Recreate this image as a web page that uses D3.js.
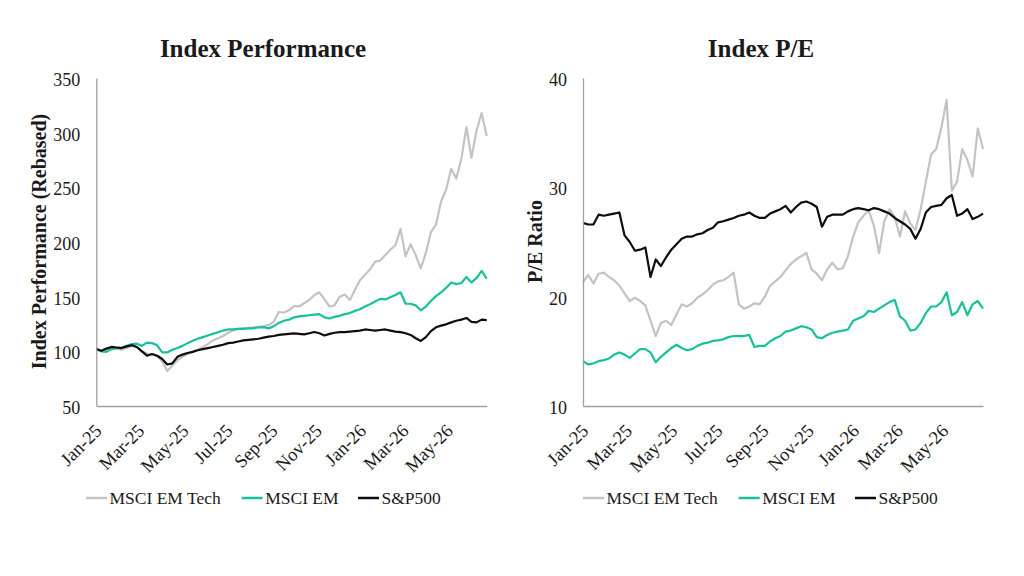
<!DOCTYPE html>
<html>
<head>
<meta charset="utf-8">
<script src="https://cdn.jsdelivr.net/npm/d3@7"></script>
<style>
  body { margin: 0; background: #fff; }
  text { font-family: "Liberation Serif", "Times New Roman", serif; fill: #1a1a1a; }
</style>
</head>
<body>
<svg width="1024" height="576"></svg>
<script>
// weekly observations, Jan-25 to Jun-26
var dates = [
  "2025-01-01","2025-01-08","2025-01-15","2025-01-22","2025-01-29","2025-02-05","2025-02-12","2025-02-19","2025-02-26",
  "2025-03-05","2025-03-12","2025-03-19","2025-03-26","2025-04-02","2025-04-09","2025-04-16","2025-04-23","2025-04-30",
  "2025-05-07","2025-05-14","2025-05-21","2025-05-28","2025-06-04","2025-06-11","2025-06-18","2025-06-25","2025-07-02",
  "2025-07-09","2025-07-16","2025-07-23","2025-07-30","2025-08-06","2025-08-13","2025-08-20","2025-08-27","2025-09-03",
  "2025-09-10","2025-09-17","2025-09-24","2025-10-01","2025-10-08","2025-10-15","2025-10-22","2025-10-29","2025-11-05",
  "2025-11-12","2025-11-19","2025-11-26","2025-12-03","2025-12-10","2025-12-17","2025-12-24","2025-12-31","2026-01-07",
  "2026-01-14","2026-01-21","2026-01-28","2026-02-04","2026-02-11","2026-02-18","2026-02-25","2026-03-04","2026-03-11",
  "2026-03-18","2026-03-25","2026-04-01","2026-04-08","2026-04-15","2026-04-22","2026-04-29","2026-05-06","2026-05-13",
  "2026-05-20","2026-05-27","2026-06-03","2026-06-10","2026-06-17","2026-06-24"
];

var seriesNames = ["MSCI EM Tech", "MSCI EM", "S&P500"];

// index performance, rebased to 100
var perfTech = [103,100,101,104,102.5,101.5,103,105,104,100,98,97,96,91,82,87,92,95,97.5,99.5,101.5,104,106.5,110,112,114,117,119,
  120.5,121,121.5,122,122.5,123,124,127,136,135.5,137.5,141.5,141,144,147,151.5,154,147.5,141,142,150,152,147,156,165,170,
  175,182,183,188,193,197,212,187,198,188,176,190,209,216,237,248,267,258,276,305,277,302,318,297];
var perfEM = [102,100,99.5,102,103,103.5,105,106.6,107,105,108,107.5,105.5,99,99,101.5,103,105,107.5,109.6,111.5,113,114.5,116,
  117.5,119,120,120,120.5,120.5,121,121,122,122,121,123,126,128,129,131,132,132.5,133,133.5,134,131,130,131.5,132.5,134,135,
  137,138.5,141,143,145.5,148,147.5,149.5,151.5,154,143.5,143.5,142,137.5,141,146,150.5,154,158,163,161.5,162.5,168,163,167,
  173.5,166.5];
var perfSP = [102,100.5,102.5,104,103.5,103,104.5,105.6,104,100,96,97.5,96,93,88,89,95,97,98.5,99.5,101,102,103,104,105,106,
  107.5,108,109,110,110.5,111,111.5,112.5,113.5,114,115,115.5,116,116.5,116,115.5,116.5,117.7,116.5,114.5,116,117,117.5,117.5,
  118,118.5,119,120,119.5,119,119.5,120,119,118,117.5,116.5,115,112,109.5,113,118.5,122,123.5,124.7,126.5,128,129,130.5,127,
  126.5,129,128.5];

// price / earnings
var peTech = [21.3,22.0,21.2,22.1,22.2,21.8,21.5,21.0,20.3,19.6,19.9,19.6,19.2,17.8,16.4,17.6,17.8,17.4,18.4,19.3,19.1,19.4,
  19.9,20.2,20.6,21.1,21.4,21.5,21.8,22.2,19.3,18.9,19.1,19.4,19.3,20.0,21.0,21.4,21.8,22.4,23.0,23.4,23.7,24.0,22.5,22.1,21.5,
  22.5,23.1,22.5,22.6,23.7,25.5,26.8,27.4,27.9,26.5,24.0,26.9,28.0,27.3,25.5,27.8,26.7,26.1,28.0,30.5,33.0,33.5,35.5,38.0,29.7,
  30.5,33.5,32.5,31.0,35.4,33.5];
var peEM = [14.1,13.8,13.9,14.1,14.2,14.35,14.7,14.9,14.7,14.4,14.8,15.2,15.2,14.9,14.0,14.5,14.9,15.3,15.6,15.3,15.1,15.2,15.5,
  15.7,15.8,15.95,16.0,16.1,16.3,16.4,16.4,16.4,16.5,15.4,15.5,15.5,15.9,16.2,16.4,16.8,16.9,17.1,17.3,17.2,17.0,16.3,16.2,16.5,
  16.7,16.8,16.9,17.0,17.8,18.0,18.2,18.7,18.6,18.9,19.2,19.5,19.7,18.2,17.8,16.9,17.0,17.6,18.5,19.1,19.1,19.5,20.4,18.3,18.6,
  19.5,18.3,19.3,19.6,18.9];
var peSP = [26.75,26.6,26.6,27.5,27.4,27.5,27.6,27.7,25.6,25.0,24.2,24.3,24.5,21.8,23.4,22.8,23.6,24.3,24.8,25.3,25.5,25.5,25.7,
  25.8,26.1,26.3,26.8,26.9,27.05,27.2,27.4,27.5,27.7,27.4,27.2,27.2,27.6,27.8,28.0,28.3,27.7,28.2,28.6,28.7,28.5,28.2,26.4,27.3,
  27.5,27.5,27.5,27.8,28.0,28.1,28.0,27.9,28.1,28.0,27.8,27.6,27.2,26.9,26.6,26.2,25.3,26.2,27.7,28.2,28.3,28.4,29.0,29.3,27.4,
  27.6,28.0,27.1,27.3,27.6];

var perfTicks = [50, 100, 150, 200, 250, 300, 350];
var peTicks = [10, 20, 30, 40];

var colors = ["#c3c3c3", "#17c29a", "#0d0d0d"];

var svg = d3.select("svg");
var parseDate = d3.timeParse("%Y-%m-%d");
var xDates = dates.map(parseDate);

function drawPanel(p) {
  var x = d3.scaleTime()
    .domain(d3.extent(xDates))
    .range([p.left, p.right]);

  var y = d3.scaleLinear()
    .domain([p.ticks[0], p.ticks[p.ticks.length - 1]])
    .range([406, 78]);

  var g = svg.append("g");

  // lines first, axes drawn over them
  var line = d3.line()
    .x((d, i) => x(xDates[i]))
    .y((d) => y(d));

  p.series.forEach((s, k) => {
    g.append("path")
      .datum(s)
      .attr("fill", "none")
      .attr("stroke", colors[k])
      .attr("stroke-width", 2.2)
      .attr("stroke-linejoin", "round")
      .attr("d", line);
  });

  var yAxis = g.append("g")
    .attr("transform", "translate(" + p.left + ",0)")
    .call(d3.axisLeft(y).tickValues(p.ticks).tickSize(0).tickPadding(16));
  yAxis.select(".domain").attr("stroke", "#a0a0a0").attr("stroke-width", 1.3);
  yAxis.selectAll("text")
    .attr("dy", "0.42em")
    .style("font-family", "Liberation Serif")
    .style("font-size", "18px")
    .style("fill", "#1a1a1a");

  var xAxis = g.append("g")
    .attr("transform", "translate(0,406)")
    .call(d3.axisBottom(x)
      .ticks(d3.timeMonth.every(2))
      .tickFormat(d3.timeFormat("%b-%y"))
      .tickSize(0));
  xAxis.select(".domain").attr("stroke", "#a0a0a0").attr("stroke-width", 1.3);
  xAxis.selectAll("text")
    .attr("x", 0)
    .attr("y", 0)
    .attr("dy", null)
    .attr("transform", "translate(6,26) rotate(-45)")
    .style("text-anchor", "end")
    .style("font-family", "Liberation Serif")
    .style("font-size", "18.5px")
    .style("fill", "#1a1a1a");

  // chart title
  svg.append("text")
    .attr("x", p.titleX)
    .attr("y", 57)
    .attr("text-anchor", "middle")
    .attr("font-weight", "bold")
    .attr("font-size", "25px")
    .text(p.title);

  // y-axis title
  svg.append("text")
    .attr("transform", "translate(" + p.yTitleX + ",241.5) rotate(-90)")
    .attr("text-anchor", "middle")
    .attr("font-weight", "bold")
    .attr("font-size", "20px")
    .text(p.yTitle);

  // legend
  var offsets = [0, 155.7, 272];
  var legend = svg.append("g").attr("transform", "translate(" + p.legendX + ",498)");
  seriesNames.forEach((name, k) => {
    var item = legend.append("g").attr("transform", "translate(" + offsets[k] + ",0)");
    item.append("line")
      .attr("x1", 0).attr("x2", 21)
      .attr("stroke", colors[k])
      .attr("stroke-width", 2.5);
    item.append("text")
      .attr("x", 23.5)
      .attr("y", 5.8)
      .attr("font-size", "17.5px")
      .text(name);
  });
}

drawPanel({
  left: 96.3, right: 486.7,
  ticks: perfTicks,
  series: [perfTech, perfEM, perfSP],
  title: "Index Performance", titleX: 263,
  yTitle: "Index Performance (Rebased)", yTitleX: 46,
  legendX: 86
});

drawPanel({
  left: 583, right: 983,
  ticks: peTicks,
  series: [peTech, peEM, peSP],
  title: "Index P/E", titleX: 761,
  yTitle: "P/E Ratio", yTitleX: 542,
  legendX: 583
});
</script>
</body>
</html>
